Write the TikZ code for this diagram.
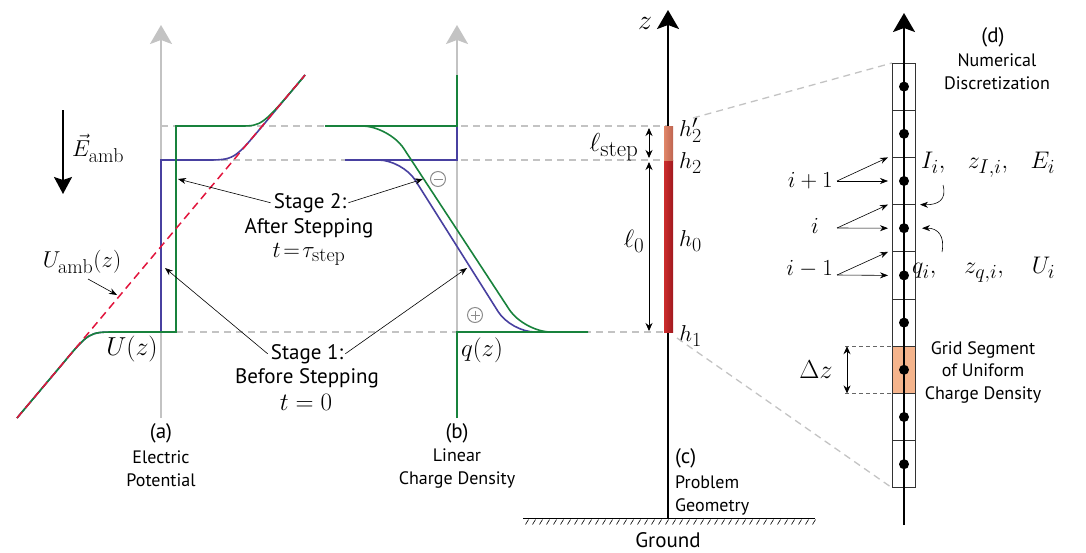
\RequirePackage{fix-cm}
\documentclass[tikz,border=0pt]{standalone}
\usepackage{fontspec}
\newfontfamily\lab{PT Sans}
\usetikzlibrary{arrows.meta}
\DeclareMathSizes{23}{23}{20}{16}
\DeclareMathSizes{24}{24}{20}{16}
\DeclareMathSizes{25}{25}{21}{17}
\DeclareMathSizes{26}{26}{23}{18}
\DeclareMathSizes{28}{28}{22}{18}
\definecolor{cgreen}{RGB}{24,130,60}
\definecolor{cblue}{RGB}{72,64,160}
\definecolor{cred}{RGB}{225,20,60}
\definecolor{cgray}{RGB}{195,195,195}
\definecolor{rodA}{RGB}{205,45,45}
\definecolor{rodB}{RGB}{160,25,30}
\definecolor{rodC}{RGB}{225,135,105}
\definecolor{rodD}{RGB}{190,100,80}
\definecolor{seg}{RGB}{245,180,140}
\tikzset{
  gaxis/.style={cgray, line width=2pt, -{Stealth[length=19pt,width=22pt,inset=4pt]}},
  baxis/.style={black, line width=2pt, -{Stealth[length=19pt,width=22pt,inset=4pt]}},
  gdash/.style={cgray, line width=1.3pt, dash pattern=on 7pt off 5pt},
  reddash/.style={cred, line width=1.5pt, dash pattern=on 8pt off 5pt},
  blueline/.style={cblue, line width=1.6pt},
  greenline/.style={cgreen, line width=1.6pt},
  sarrow/.style={black, line width=0.6pt, -{Stealth[length=8pt,width=6pt]}},
  darrow/.style={black, line width=0.8pt, {Stealth[length=8pt,width=7pt]}-{Stealth[length=8pt,width=7pt]}},
  bigtxt/.style={font=\lab\fontsize{21}{24}\selectfont, inner sep=0pt},
  smalltxt/.style={font=\lab\fontsize{18}{23}\selectfont, inner sep=0pt, align=center},
  mth/.style={font=\fontsize{23}{27}\selectfont, inner sep=0pt},
  mthb/.style={font=\fontsize{25}{29}\selectfont, inner sep=0pt},
  mthc/.style={font=\fontsize{26}{30}\selectfont, inner sep=0pt},
  cell/.style={draw=black!80, line width=0.8pt},
  sign/.style={black!45, line width=1pt}
}
\begin{document}
\begin{tikzpicture}[x=1pt,y=-1pt]
\useasboundingbox (0,0) rectangle (1086,552);

% ---------- key coordinates ----------
\coordinate (h2p) at (668,126);
\coordinate (h2) at (668,160);
\coordinate (h1) at (668,332);

% ---------- gray axes ----------
\draw[gaxis] (161,418) coordinate (aB) -- (161,25) coordinate (aT);
\draw[gaxis] (457,418) coordinate (bB) -- (457,25) coordinate (bT);

% ---------- gray dashed levels ----------
\draw[gdash] (161,126) -- (h2p);
\draw[gdash] (161,160) -- (h2);
\draw[gdash] (176,332) -- (h1);

% ---------- panel (a) curves ----------
\draw[blueline] (17,418) -- (62,364.5) .. controls (89,332) .. (116,332) -- (161,332) -- (161,160) -- (205,160) .. controls (234,160) .. (263,125.3) -- (305,75);
\draw[greenline] (17,418) -- (62,364.5) .. controls (89,332) .. (116,332) -- (176,332) -- (176,126) -- (240,126) .. controls (262,126) .. (303,77.7) -- (305,75);
\draw[reddash] (17,418) -- (305,75);

% ---------- panel (b) curves ----------
\draw[blueline] (457,126) -- (457,160) -- (345,160);
\draw[blueline, rounded corners=24pt] (345,160) -- (402.5,160) -- (511,332) -- (548,332);
\draw[greenline] (457,75) -- (457,126) -- (325,126);
\draw[greenline, rounded corners=27pt] (325,126) -- (389,126) -- (524,332) -- (588,332);
\draw[greenline] (457,418) -- (457,332) -- (588,332);

% signs
\draw[sign] (438,179) circle (7.5);
\draw[sign] (433.5,179) -- (442.5,179);
\draw[sign] (475,315) circle (7.5);
\draw[sign] (470.5,315) -- (479.5,315) (475,310.5) -- (475,319.5);

% ---------- E ambient arrow ----------
\draw[black, line width=2pt, -{Stealth[length=17pt,width=18pt,inset=3pt]}] (63,110) coordinate (eT) -- (63,194) coordinate (eB);
\node[mth, anchor=west] (Eamb) at (72,148) {$\vec{E}_{\mathrm{amb}}$};

% ---------- labels panel (a),(b) ----------
\node[mth] (Uamb) at (82,262) {$U_{\mathrm{amb}}(z)$};
\coordinate (UambT) at (117,295);
\draw[sarrow] (88,279) -- (UambT);
\node[mthc] (Uz) at (132,349) {$U(z)$};
\node[mthb] (qz) at (482,350) {$q(z)$};

\node[bigtxt] (la) at (161,433) {(a)};
\node[smalltxt] (laT) at (161,469) {Electric\\Potential};
\node[bigtxt] (lb) at (457,433) {(b)};
\node[smalltxt] (lbT) at (457,469) {Linear\\Charge Density};

% ---------- stage texts ----------
\node[bigtxt, anchor=base] (s2) at (310,208) {Stage 2:};
\node[bigtxt, anchor=base] (s2b) at (309,233) {After Stepping};
\node[mth, anchor=base] (s2c) at (309,257) {$t\!=\!\tau_{\mathrm{step}}$};
\node[bigtxt, anchor=base] (s1) at (307,359) {Stage 1:};
\node[bigtxt, anchor=base] (s1b) at (307,383) {Before Stepping};
\node[mthb, anchor=base] (s1c) at (306,410) {$t=0$};

\coordinate (t2a) at (178,179);
\coordinate (t2b) at (423,179);
\coordinate (t1a) at (165,268);
\coordinate (t1b) at (467,268);
\draw[sarrow] ([xshift=-3pt]s2.west) -- (t2a);
\draw[sarrow] ([xshift=2pt]s2.east) -- (t2b);
\draw[sarrow] ([xshift=-3pt]s1.west) -- (t1a);
\draw[sarrow] ([xshift=2pt]s1.east) -- (t1b);

% ---------- panel (c) ----------
\draw[black, line width=1pt] (523,518) coordinate (gL) -- (815,518) coordinate (gR);
\foreach \x in {526,533,...,813} \draw[black, line width=0.6pt] (\x+2.5,519.5) -- (\x-0.5,524.5);
\node[bigtxt] (ground) at (668,540) {Ground};
\draw[baxis] (668,518) coordinate (cB) -- (668,10) coordinate (cT);
\node[font=\fontsize{28}{30}\selectfont, inner sep=0pt] (zl) at (645,23) {$z$};

\shade[left color=rodA, right color=rodB] (664,160) rectangle (673,332);
\shade[left color=rodC, right color=rodD] (664,126) rectangle (673,160);

\node[mth, anchor=west] (lh2p) at (679,130) {$h_2'$};
\node[mth, anchor=west] (lh2) at (679,163) {$h_2$};
\node[mth, anchor=west] (lh0) at (679,241) {$h_0$};
\node[mth, anchor=west] (lh1) at (679,336) {$h_1$};

\draw[darrow] (649,128) coordinate (lsT) -- (649,158) coordinate (lsB);
\node[mthc] (lstep) at (614,147) {$\ell_{\mathrm{step}}$};
\draw[darrow] (649,162) coordinate (l0T) -- (649,331) coordinate (l0B);
\node[mthb] (l0) at (634,241) {$\ell_0$};

\node[bigtxt, anchor=west] (lc) at (675,458) {(c)};
\node[smalltxt, anchor=west, align=left] (lcT) at (675,495) {Problem\\Geometry};

% ---------- panel (d) ----------
\coordinate (gTL) at (892,63);
\coordinate (gBL) at (892,487.8);
\coordinate (rT) at (693,118);
\coordinate (rB) at (677,338);
\draw[gdash] (rT) -- (gTL);
\draw[gdash] (rB) -- (gBL);

\foreach \i in {0,...,8} {
  \pgfmathsetmacro{\ya}{63+47.2*\i}
  \pgfmathsetmacro{\yb}{63+47.2*(\i+1)}
  \ifnum\i=6
    \filldraw[cell, fill=seg] (892,\ya) rectangle (915,\yb);
  \else
    \draw[cell] (892,\ya) rectangle (915,\yb);
  \fi
}
\draw[baxis] (904,525) coordinate (dB) -- (904,13) coordinate (dT);
\foreach \i in {0,...,8} \fill[black] (904,{63+47.2*(\i+0.5)}) circle (5);

\draw[black!60, line width=0.8pt, dash pattern=on 4pt off 3pt] (845,346.2) -- (892,346.2) (845,393.4) -- (892,393.4);
\draw[darrow] (847,346.2) coordinate (dzT) -- (847,393.4) coordinate (dzB);
\node[mthc] (dz) at (816,370) {$\Delta z$};

\node[bigtxt] (ld) at (993,37) {(d)};
\node[smalltxt] (ldT) at (997,72) {Numerical\\Discretization};
\node[smalltxt, font=\lab\fontsize{18}{22.5}\selectfont] (gs) at (983,372) {Grid Segment\\of Uniform\\Charge Density};

\node[mth, anchor=east] (ip1) at (833,181) {$i+1$};
\node[mth] (ii) at (815,226) {$i$};
\node[mth, anchor=east] (im1) at (833,269) {$i-1$};
\draw[sarrow] (837,181) -- (888,157.4);
\draw[sarrow] (837,181) -- (888,181);
\draw[sarrow] (837,228) -- (888,204.6);
\draw[sarrow] (837,228) -- (888,228.2);
\draw[sarrow] (837,275) -- (888,251.8);
\draw[sarrow] (837,275) -- (888,275.4);

\node[font=\fontsize{24}{28}\selectfont, inner sep=0pt, anchor=west] (Ii) at (921,165) {$I_i,\ \ \,z_{I,i},\ \ \,E_i$};
\node[font=\fontsize{24}{28}\selectfont, inner sep=0pt, anchor=west] (qi) at (912,270) {$q_i,\quad z_{q,i},\quad U_i$};
\draw[sarrow] (943,185) .. controls (947,200) and (938,205) .. (920,204.6);
\draw[sarrow] (942,252) .. controls (945,236) and (938,228) .. (922,228.2);
\end{tikzpicture}
\end{document}
